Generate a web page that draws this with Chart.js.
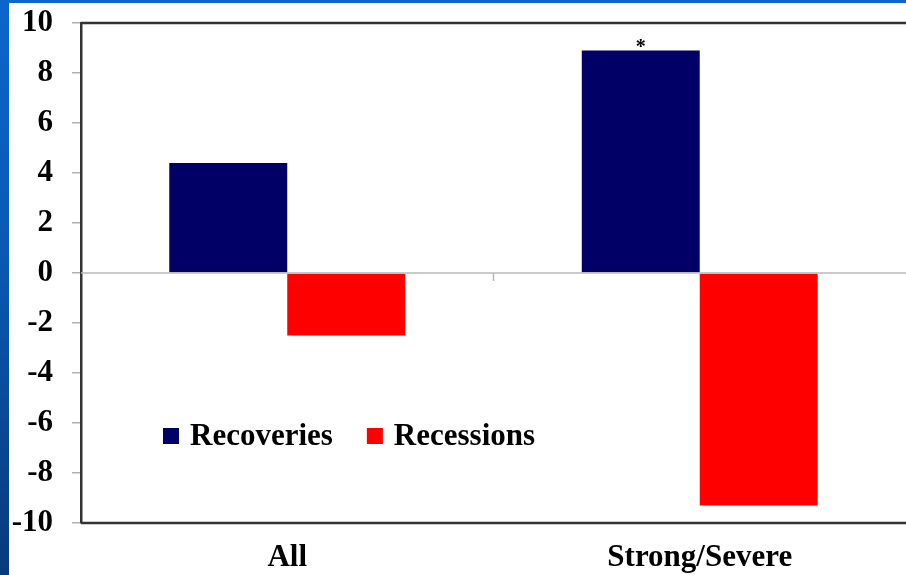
<!DOCTYPE html>
<html>
<head>
<meta charset="utf-8">
<script src="https://cdn.jsdelivr.net/npm/chart.js@4/dist/chart.umd.min.js"></script>
<style>
  html, body { margin: 0; padding: 0; }
  body {
    width: 906px; height: 575px; overflow: hidden; position: relative;
    background: linear-gradient(to bottom, #0b66cc 0%, #0a58b4 45%, #083a7c 100%);
  }
  #wrap { position: absolute; left: 9px; top: 3px; width: 897px; height: 572px; background: #fff; }
</style>
</head>
<body>
<div id="wrap"><canvas id="chart"></canvas></div>
<script>
const categories = ['All', 'Strong/Severe'];
const seriesNames = ['Recoveries', 'Recessions'];
const recoveries = [4.4, 8.9];
const recessions = [-2.5, -9.3];
const seriesColors = ['#000066', '#ff0000'];
// asterisk marks: [dataset index, category index]
const starMarks = [[0, 1]];
const yTicks = [-10, -8, -6, -4, -2, 0, 2, 4, 6, 8, 10];

const serif = '"Liberation Serif", "Times New Roman", serif';

// frame, zero line, divider tick, legend and asterisk
const decor = {
    id: 'decor',
    afterDatasetsDraw(chart) {
        const ctx = chart.ctx;
        const a = chart.chartArea;
        const y = chart.scales.y;
        const x = chart.scales.x;
        const y0 = y.getPixelForValue(0);
        ctx.save();

        // zero line
        ctx.strokeStyle = '#b8b8b8';
        ctx.lineWidth = 1.5;
        ctx.beginPath();
        ctx.moveTo(a.left, y0);
        ctx.lineTo(a.right, y0);
        ctx.stroke();
        // tick between the categories
        const mid = (x.getPixelForValue(0) + x.getPixelForValue(1)) / 2;
        ctx.beginPath();
        ctx.moveTo(mid, y0);
        ctx.lineTo(mid, y0 + 8);
        ctx.stroke();

        // top and bottom frame
        ctx.strokeStyle = '#333';
        ctx.lineWidth = 2.5;
        ctx.beginPath();
        ctx.moveTo(a.left, a.top);
        ctx.lineTo(a.right, a.top);
        ctx.moveTo(a.left, a.bottom);
        ctx.lineTo(a.right, a.bottom);
        ctx.stroke();

        // asterisks
        ctx.fillStyle = '#000';
        ctx.font = 'bold 20px ' + serif;
        ctx.textAlign = 'center';
        ctx.textBaseline = 'alphabetic';
        starMarks.forEach(([d, i]) => {
            const bar = chart.getDatasetMeta(d).data[i];
            ctx.fillText('*', bar.x, bar.y + 2);
        });

        // legend
        ctx.font = 'bold 31px ' + serif;
        ctx.textAlign = 'left';
        ctx.textBaseline = 'middle';
        let lx = 154;
        const ly = 433;
        chart.data.datasets.forEach(ds => {
            ctx.fillStyle = ds.backgroundColor;
            ctx.fillRect(lx, ly - 8, 16, 16);
            ctx.fillStyle = '#000';
            ctx.fillText(ds.label, lx + 27, ly + 1);
            lx += 27 + ctx.measureText(ds.label).width + 34;
        });
        ctx.restore();
    }
};

new Chart(document.getElementById('chart'), {
    type: 'bar',
    data: {
        labels: categories,
        datasets: [
            { label: seriesNames[0], data: recoveries, backgroundColor: seriesColors[0] },
            { label: seriesNames[1], data: recessions, backgroundColor: seriesColors[1] }
        ]
    },
    options: {
        responsive: true,
        maintainAspectRatio: false,
        animation: false,
        layout: { padding: { top: 20, right: 0, left: 0, bottom: 0 } },
        datasets: {
            bar: { categoryPercentage: 0.572, barPercentage: 1.0 }
        },
        plugins: {
            legend: { display: false },
            tooltip: { enabled: false }
        },
        scales: {
            x: {
                grid: { display: false },
                border: { display: false },
                ticks: {
                    color: '#000',
                    padding: 8,
                    font: { family: serif, size: 31, weight: 'bold' }
                },
                afterFit(scale) {
                    scale.height = 52;
                    scale.paddingLeft = 0;
                    scale.paddingRight = 0;
                }
            },
            y: {
                min: -10,
                max: 10,
                afterBuildTicks(scale) { scale.ticks = yTicks.map(v => ({ value: v })); },
                grid: {
                    drawOnChartArea: false,
                    drawTicks: true,
                    tickLength: 9,
                    color: '#b0b0b0',
                    lineWidth: 1.5
                },
                border: { display: true, color: '#333', width: 2.5 },
                ticks: {
                    color: '#000',
                    padding: 19,
                    font: { family: serif, size: 31, weight: 'bold' }
                },
                afterFit(scale) {
                    scale.width = 72;
                    scale.paddingTop = 0;
                    scale.paddingBottom = 0;
                }
            }
        }
    },
    plugins: [decor]
});
</script>
</body>
</html>
